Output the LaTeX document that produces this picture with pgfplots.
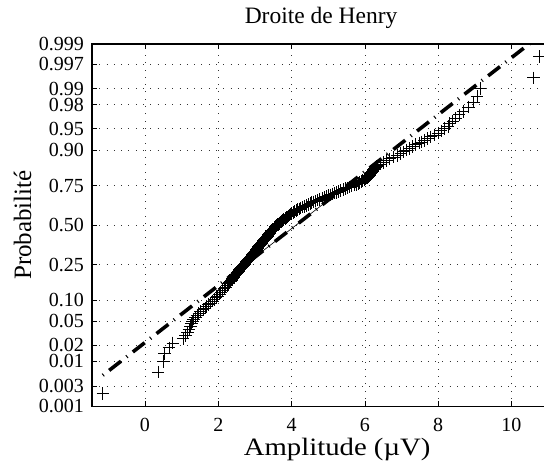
\documentclass[border=0pt]{standalone}
\usepackage{fontspec}
\setmainfont{Liberation Serif}
\usepackage{pgfplots}
\pgfplotsset{compat=1.18}

\begin{document}
\begin{tikzpicture}
\begin{axis}[
  x=36.65pt, y=58.58pt,
  xmin=-1.446, xmax=11.056,
  ymin=-3.0902, ymax=3.0902,
  axis line style={line width=1.1pt},
  tick align=inside,
  major tick length=5pt,
  tick style={black, line width=0.6pt},
  xtick={0,2,4,6,8,10},
  ytick={-3.0902,-2.7478,-2.3263,-2.0537,-1.6449,-1.2816,-0.6745,0,0.6745,1.2816,1.6449,2.0537,2.3263,2.7478,3.0902},
  yticklabels={0.001,0.003,0.01,0.02,0.05,0.10,0.25,0.50,0.75,0.90,0.95,0.98,0.99,0.997,0.999},
  /pgf/number format/assume math mode=true,
  tick label style={font=\fontsize{20}{20}\selectfont, inner sep=0pt},
  xticklabel style={anchor=north, yshift=-12pt},
  yticklabel style={anchor=east, xshift=-8pt},
  grid=major,
  major grid style={black!80, line width=0.7pt, dash pattern=on 0.7pt off 6.6pt},
  title={Droite de Henry},
  title style={font=\fontsize{23.5}{23.5}\selectfont, at={(axis description cs:0.5,1.0400)}, anchor=base, inner sep=0pt},
  xlabel={Amplitude (µV)},
  xlabel style={font=\fontsize{25}{25}\selectfont, xscale=1.15, at={(axis description cs:0.535,-0.1354)}, anchor=base, inner sep=0pt},
  ylabel={Probabilité},
  ylabel style={font=\fontsize{25}{25}\selectfont, at={(axis description cs:-0.1331,0.5)}, anchor=base, rotate=0, inner sep=0pt},
]
% sample quantiles against normal scores
\addplot[only marks, mark=+, mark size=6.3pt, mark options={line width=0.8pt, black}] coordinates {
(-1.15,-2.878) (0.36,-2.512) (0.50,-2.326) (0.54,-2.197) (0.66,-2.097) (0.76,-2.014)
(1.04,-1.943) (1.10,-1.881) (1.16,-1.825) (1.20,-1.774) (1.24,-1.728) (1.27,-1.685)
(1.30,-1.645) (1.33,-1.607) (1.37,-1.572) (1.42,-1.538) (1.47,-1.506) (1.52,-1.476)
(1.58,-1.447) (1.64,-1.419)
(1.688,-1.39) (1.738,-1.36) (1.788,-1.33) (1.838,-1.30) (1.888,-1.27) (1.935,-1.24)
(1.980,-1.21) (2.025,-1.18) (2.070,-1.15) (2.112,-1.12) (2.154,-1.09) (2.196,-1.06)
(2.238,-1.03) (2.277,-1.00) (2.315,-0.97) (2.354,-0.94) (2.393,-0.91) (2.430,-0.88)
(2.468,-0.85) (2.505,-0.82) (2.544,-0.79) (2.585,-0.76) (2.626,-0.73) (2.666,-0.70)
(2.709,-0.67) (2.753,-0.64) (2.796,-0.61) (2.840,-0.58) (2.878,-0.55) (2.915,-0.52)
(2.953,-0.49) (2.990,-0.46) (3.026,-0.43) (3.063,-0.40) (3.099,-0.37) (3.137,-0.34)
(3.177,-0.31) (3.217,-0.28) (3.257,-0.25) (3.296,-0.22) (3.335,-0.19) (3.374,-0.16)
(3.413,-0.13) (3.456,-0.10) (3.499,-0.07) (3.542,-0.04) (3.586,-0.01) (3.640,0.02)
(3.700,0.05) (3.760,0.08) (3.820,0.11) (3.880,0.14) (3.940,0.17) (4.000,0.20)
(4.084,0.23) (4.168,0.26) (4.252,0.29) (4.348,0.32) (4.450,0.35) (4.552,0.38)
(4.658,0.41) (4.772,0.44) (4.886,0.47) (5.000,0.50) (5.114,0.53) (5.228,0.56)
(5.342,0.59) (5.460,0.62) (5.580,0.65) (5.700,0.68) (5.810,0.71) (5.900,0.74)
(5.990,0.77) (6.051,0.80) (6.098,0.83) (6.144,0.86) (6.180,0.89) (6.210,0.92)
(6.240,0.95) (6.291,0.98) (6.343,1.01) (6.413,1.04) (6.493,1.07) (6.584,1.10)
(6.680,1.13) (6.788,1.16) (6.890,1.19) (6.980,1.22) (7.055,1.25) (7.130,1.28)
(7.210,1.31) (7.300,1.34) (7.388,1.37) (7.475,1.40)
(7.53,1.419) (7.62,1.447) (7.71,1.476) (7.80,1.506) (7.90,1.538) (8.00,1.572)
(8.08,1.607) (8.18,1.645) (8.27,1.685) (8.31,1.728) (8.40,1.774) (8.48,1.825)
(8.57,1.881) (8.68,1.943) (8.83,2.014) (8.97,2.097) (9.06,2.197) (9.14,2.326)
(10.60,2.512) (10.76,2.878)
(2.296,-0.985) (2.335,-0.955) (2.374,-0.925) (2.412,-0.895) (2.449,-0.865) (2.487,-0.835)
(2.525,-0.805) (2.565,-0.775) (2.606,-0.745) (2.646,-0.715) (2.688,-0.685) (2.731,-0.655)
(2.775,-0.625) (2.818,-0.595) (2.859,-0.565) (2.897,-0.535) (2.934,-0.505) (2.972,-0.475)
(3.008,-0.445) (3.045,-0.415) (3.081,-0.385) (3.118,-0.355) (3.157,-0.325) (3.197,-0.295)
(3.237,-0.265) (3.277,-0.235) (3.316,-0.205) (3.355,-0.175) (3.394,-0.145) (3.435,-0.115)
(3.478,-0.085) (3.521,-0.055) (3.564,-0.025) (3.613,0.005) (3.670,0.035) (3.730,0.065)
(3.790,0.095) (3.850,0.125) (3.910,0.155) (3.970,0.185) (4.042,0.215) (4.126,0.245)
(4.210,0.275) (4.300,0.305) (4.399,0.335) (4.501,0.365) (4.605,0.395) (4.715,0.425)
(4.829,0.455) (4.943,0.485) (5.057,0.515) (5.171,0.545) (5.285,0.575) (5.401,0.605)
(5.520,0.635) (5.640,0.665) (5.755,0.695) (5.855,0.725) (5.945,0.755) (6.021,0.785)
(6.075,0.815) (6.121,0.845) (6.162,0.875) (6.195,0.905) (6.225,0.935) (6.266,0.965)
(6.317,0.995)
};
% reference line through the quartiles, extended over the data range
\addplot[black, line width=3.6pt, line cap=butt, dash pattern=on 15pt off 7pt on 1pt off 7pt, dash phase=22pt] coordinates {(-1.15,-2.565) (10.76,3.226)};
% solid part between the quartiles
\addplot[black, line width=0.6pt] coordinates {(2.738,-0.6745) (5.512,0.6745)};
\end{axis}
\pgfresetboundingbox
\useasboundingbox ([xshift=-92pt,yshift=-55pt]current axis.south west) rectangle ([xshift=452pt,yshift=44pt]current axis.north west);
\end{tikzpicture}
\end{document}
